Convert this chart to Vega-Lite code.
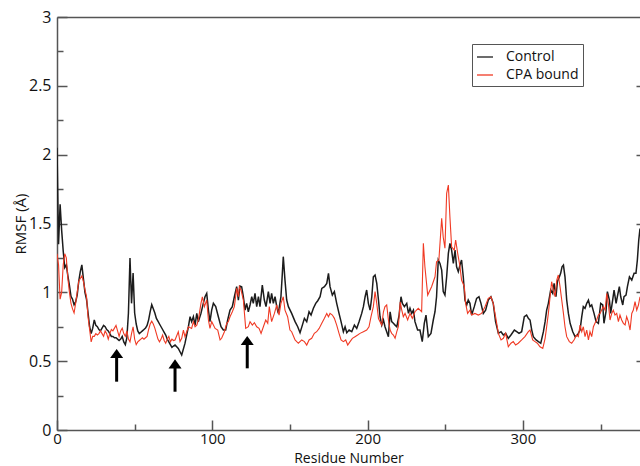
{
  "$schema": "https://vega.github.io/schema/vega-lite/v6.json",
  "width": 583,
  "height": 413,
  "autosize": {"type": "none"},
  "padding": {"left": 57, "top": 17, "right": 0, "bottom": 36},
  "background": "white",
  "config": {
    "view": {"stroke": null},
    "font": "Open Sans",
    "axis": {
      "grid": false,
      "domainColor": "#555555",
      "domainWidth": 1.5,
      "tickColor": "#555555",
      "tickWidth": 1.5,
      "labelFont": "Open Sans",
      "labelFontSize": 16,
      "labelColor": "#111111",
      "labelFlush": false,
      "titleFont": "Open Sans",
      "titleFontSize": 15,
      "titleFontWeight": "normal",
      "titleColor": "#111111"
    }
  },
  "datasets": {
    "control": [
      {"residue":0,"rmsf":2.05},{"residue":1,"rmsf":1.35},{"residue":2,"rmsf":1.64},{"residue":3,"rmsf":1.45},{"residue":4,"rmsf":1.3},{"residue":5,"rmsf":1.18},{"residue":6,"rmsf":1.2},{"residue":7,"rmsf":1.12},{"residue":8,"rmsf":1.05},{"residue":9,"rmsf":0.97},{"residue":10,"rmsf":0.95},{"residue":11,"rmsf":0.91},{"residue":12,"rmsf":0.93},{"residue":13,"rmsf":0.98},{"residue":14,"rmsf":1.08},{"residue":15,"rmsf":1.15},{"residue":16,"rmsf":1.2},{"residue":17,"rmsf":1.1},{"residue":18,"rmsf":1.0},{"residue":19,"rmsf":0.95},{"residue":20,"rmsf":0.85},{"residue":21,"rmsf":0.75},{"residue":22,"rmsf":0.7},{"residue":23,"rmsf":0.74},{"residue":24,"rmsf":0.8},{"residue":25,"rmsf":0.76},{"residue":26,"rmsf":0.75},{"residue":27,"rmsf":0.73},{"residue":28,"rmsf":0.72},{"residue":29,"rmsf":0.74},{"residue":30,"rmsf":0.76},{"residue":31,"rmsf":0.75},{"residue":32,"rmsf":0.73},{"residue":33,"rmsf":0.72},{"residue":34,"rmsf":0.7},{"residue":35,"rmsf":0.68},{"residue":36,"rmsf":0.68},{"residue":37,"rmsf":0.67},{"residue":38,"rmsf":0.67},{"residue":39,"rmsf":0.66},{"residue":40,"rmsf":0.65},{"residue":41,"rmsf":0.66},{"residue":42,"rmsf":0.68},{"residue":43,"rmsf":0.64},{"residue":44,"rmsf":0.62},{"residue":45,"rmsf":0.67},{"residue":46,"rmsf":0.85},{"residue":47,"rmsf":1.25},{"residue":48,"rmsf":0.92},{"residue":49,"rmsf":1.14},{"residue":50,"rmsf":0.85},{"residue":51,"rmsf":0.77},{"residue":52,"rmsf":0.72},{"residue":53,"rmsf":0.7},{"residue":54,"rmsf":0.71},{"residue":55,"rmsf":0.72},{"residue":56,"rmsf":0.73},{"residue":57,"rmsf":0.74},{"residue":58,"rmsf":0.76},{"residue":59,"rmsf":0.8},{"residue":60,"rmsf":0.86},{"residue":61,"rmsf":0.91},{"residue":62,"rmsf":0.88},{"residue":63,"rmsf":0.85},{"residue":64,"rmsf":0.81},{"residue":65,"rmsf":0.79},{"residue":66,"rmsf":0.77},{"residue":67,"rmsf":0.75},{"residue":68,"rmsf":0.73},{"residue":69,"rmsf":0.71},{"residue":70,"rmsf":0.69},{"residue":71,"rmsf":0.66},{"residue":72,"rmsf":0.64},{"residue":73,"rmsf":0.62},{"residue":74,"rmsf":0.6},{"residue":75,"rmsf":0.61},
      {"residue":76.0,"rmsf":0.617},{"residue":78.1,"rmsf":0.593},{"residue":80.3,"rmsf":0.545},{"residue":82.4,"rmsf":0.629},{"residue":84.6,"rmsf":0.75},{"residue":85.7,"rmsf":0.823},{"residue":86.7,"rmsf":0.787},{"residue":87.8,"rmsf":0.823},{"residue":88.9,"rmsf":0.762},{"residue":90.0,"rmsf":0.847},{"residue":91.0,"rmsf":0.787},{"residue":92.7,"rmsf":0.847},{"residue":94.2,"rmsf":0.92},{"residue":95.3,"rmsf":0.968},{"residue":96.4,"rmsf":0.992},{"residue":97.5,"rmsf":0.871},{"residue":98.5,"rmsf":0.787},{"residue":99.6,"rmsf":0.871},{"residue":100.7,"rmsf":0.92},{"residue":102.2,"rmsf":0.896},{"residue":103.9,"rmsf":0.823},{"residue":105.6,"rmsf":0.75},{"residue":107.1,"rmsf":0.726},{"residue":108.6,"rmsf":0.726},{"residue":109.9,"rmsf":0.799},{"residue":111.4,"rmsf":0.871},{"residue":112.9,"rmsf":0.896},{"residue":114.2,"rmsf":0.968},{"residue":115.7,"rmsf":1.041},{"residue":116.8,"rmsf":0.944},{"residue":117.8,"rmsf":1.046},{"residue":118.9,"rmsf":1.041},{"residue":120.0,"rmsf":0.968},{"residue":121.1,"rmsf":0.871},{"residue":122.1,"rmsf":0.92},{"residue":123.2,"rmsf":0.859},{"residue":124.3,"rmsf":0.908},{"residue":125.4,"rmsf":0.968},{"residue":126.4,"rmsf":0.92},{"residue":127.5,"rmsf":0.992},{"residue":128.6,"rmsf":0.896},{"residue":129.7,"rmsf":0.968},{"residue":130.7,"rmsf":0.896},{"residue":132.2,"rmsf":1.053},{"residue":133.5,"rmsf":0.944},{"residue":134.6,"rmsf":0.896},{"residue":136.1,"rmsf":1.005},{"residue":137.2,"rmsf":0.92},{"residue":138.2,"rmsf":0.992},{"residue":139.3,"rmsf":0.92},{"residue":140.4,"rmsf":0.968},{"residue":141.5,"rmsf":0.896},{"residue":142.5,"rmsf":0.847},{"residue":144.2,"rmsf":0.968},{"residue":145.1,"rmsf":1.138},{"residue":145.7,"rmsf":1.259},{"residue":146.8,"rmsf":1.089},{"residue":147.9,"rmsf":0.944},{"residue":149.0,"rmsf":0.896},{"residue":151.1,"rmsf":0.847},
      {"residue":153.3,"rmsf":0.787},{"residue":155.0,"rmsf":0.75},{"residue":156.5,"rmsf":0.707},{"residue":158.0,"rmsf":0.762},{"residue":159.3,"rmsf":0.811},{"residue":160.8,"rmsf":0.787},{"residue":162.3,"rmsf":0.859},{"residue":163.6,"rmsf":0.835},{"residue":165.1,"rmsf":0.884},{"residue":166.6,"rmsf":0.92},{"residue":167.9,"rmsf":0.939},{"residue":169.4,"rmsf":0.968},{"residue":170.5,"rmsf":1.029},{"residue":172.2,"rmsf":1.041},{"residue":173.7,"rmsf":1.065},{"residue":174.8,"rmsf":1.138},{"residue":175.8,"rmsf":1.041},{"residue":177.3,"rmsf":0.98},{"residue":178.6,"rmsf":1.005},{"residue":180.1,"rmsf":0.92},{"residue":181.6,"rmsf":0.847},{"residue":182.9,"rmsf":0.787},{"residue":184.4,"rmsf":0.714},{"residue":185.5,"rmsf":0.75},{"residue":186.6,"rmsf":0.707},{"residue":188.1,"rmsf":0.726},{"residue":189.8,"rmsf":0.714},{"residue":191.5,"rmsf":0.762},{"residue":193.0,"rmsf":0.738},{"residue":194.5,"rmsf":0.787},{"residue":196.2,"rmsf":0.847},{"residue":197.3,"rmsf":0.896},{"residue":198.4,"rmsf":0.968},{"residue":199.4,"rmsf":1.017},{"residue":200.5,"rmsf":0.92},{"residue":201.6,"rmsf":0.871},{"residue":202.7,"rmsf":0.968},{"residue":203.7,"rmsf":1.113},{"residue":204.8,"rmsf":1.126},{"residue":205.9,"rmsf":1.065},{"residue":207.0,"rmsf":0.944},{"residue":208.0,"rmsf":0.823},{"residue":209.1,"rmsf":0.762},{"residue":210.2,"rmsf":0.799},{"residue":211.2,"rmsf":0.75},{"residue":212.3,"rmsf":0.714},{"residue":213.4,"rmsf":0.678},{"residue":214.5,"rmsf":0.859},{"residue":215.5,"rmsf":0.787},{"residue":216.6,"rmsf":0.775},{"residue":217.7,"rmsf":0.762},{"residue":218.8,"rmsf":0.75},{"residue":220.3,"rmsf":0.835},{"residue":221.5,"rmsf":0.968},{"residue":222.4,"rmsf":0.92},{"residue":223.7,"rmsf":0.896},{"residue":225.2,"rmsf":0.92},{"residue":226.3,"rmsf":0.847},{"residue":227.3,"rmsf":0.884},{"residue":228.4,"rmsf":0.847},{"residue":229.5,"rmsf":0.871},
      {"residue":230.5,"rmsf":0.787},{"residue":232.2,"rmsf":0.726},{"residue":233.7,"rmsf":0.726},{"residue":235.2,"rmsf":0.642},{"residue":236.5,"rmsf":0.775},{"residue":237.6,"rmsf":0.835},{"residue":239.1,"rmsf":0.678},{"residue":240.8,"rmsf":0.702},{"residue":242.3,"rmsf":0.799},{"residue":243.4,"rmsf":0.859},{"residue":244.4,"rmsf":0.968},{"residue":245.5,"rmsf":1.235},{"residue":246.6,"rmsf":1.21},{"residue":247.7,"rmsf":1.162},{"residue":248.7,"rmsf":1.005},{"residue":249.8,"rmsf":0.98},{"residue":250.9,"rmsf":1.113},{"residue":252.0,"rmsf":1.283},{"residue":253.0,"rmsf":1.356},{"residue":254.1,"rmsf":1.307},{"residue":255.2,"rmsf":1.21},{"residue":256.3,"rmsf":1.307},{"residue":257.3,"rmsf":1.186},{"residue":258.4,"rmsf":1.15},{"residue":259.5,"rmsf":1.198},{"residue":260.5,"rmsf":1.235},{"residue":261.6,"rmsf":1.113},{"residue":262.7,"rmsf":0.944},{"residue":263.8,"rmsf":0.908},{"residue":264.8,"rmsf":0.944},{"residue":265.9,"rmsf":0.92},{"residue":267.0,"rmsf":0.835},{"residue":268.7,"rmsf":0.896},{"residue":270.2,"rmsf":0.956},{"residue":271.7,"rmsf":0.968},{"residue":273.0,"rmsf":0.92},{"residue":274.5,"rmsf":0.847},{"residue":276.0,"rmsf":0.871},{"residue":277.7,"rmsf":0.944},{"residue":279.4,"rmsf":0.968},{"residue":280.9,"rmsf":0.92},{"residue":282.4,"rmsf":0.787},{"residue":284.2,"rmsf":0.702},{"residue":285.9,"rmsf":0.714},{"residue":287.4,"rmsf":0.69},{"residue":288.9,"rmsf":0.702},{"residue":290.6,"rmsf":0.666},{"residue":292.3,"rmsf":0.69},{"residue":294.5,"rmsf":0.726},{"residue":296.0,"rmsf":0.714},{"residue":297.5,"rmsf":0.702},{"residue":299.2,"rmsf":0.714},{"residue":300.9,"rmsf":0.823},{"residue":302.4,"rmsf":0.835},{"residue":303.6,"rmsf":0.81},
      {"residue":304.6,"rmsf":0.799},{"residue":305.7,"rmsf":0.726},{"residue":306.7,"rmsf":0.678},{"residue":308.5,"rmsf":0.654},{"residue":310.0,"rmsf":0.642},{"residue":311.5,"rmsf":0.63},{"residue":313.2,"rmsf":0.714},{"residue":314.3,"rmsf":0.787},{"residue":315.3,"rmsf":0.871},{"residue":316.4,"rmsf":0.92},{"residue":317.9,"rmsf":1.017},{"residue":319.2,"rmsf":0.992},{"residue":320.1,"rmsf":1.065},{"residue":321.3,"rmsf":0.968},{"residue":322.2,"rmsf":1.077},{"residue":323.5,"rmsf":1.113},{"residue":324.3,"rmsf":1.138},{"residue":325.2,"rmsf":1.186},{"residue":326.1,"rmsf":1.198},{"residue":327.1,"rmsf":1.113},{"residue":328.2,"rmsf":0.944},{"residue":329.3,"rmsf":0.847},{"residue":330.4,"rmsf":0.775},{"residue":332.1,"rmsf":0.714},{"residue":333.6,"rmsf":0.678},{"residue":335.1,"rmsf":0.69},{"residue":336.8,"rmsf":0.726},{"residue":337.9,"rmsf":0.823},{"residue":338.9,"rmsf":0.896},{"residue":340.0,"rmsf":0.884},{"residue":341.1,"rmsf":0.92},{"residue":342.2,"rmsf":0.944},{"residue":343.2,"rmsf":0.896},{"residue":344.3,"rmsf":0.908},{"residue":345.8,"rmsf":0.847},{"residue":347.1,"rmsf":0.787},{"residue":348.6,"rmsf":0.775},{"residue":350.1,"rmsf":0.92},{"residue":351.4,"rmsf":0.908},{"residue":352.2,"rmsf":0.775},{"residue":353.5,"rmsf":0.859},{"residue":354.4,"rmsf":1.005},{"residue":355.7,"rmsf":0.944},{"residue":356.5,"rmsf":0.847},{"residue":357.8,"rmsf":0.944},{"residue":358.7,"rmsf":1.017},{"residue":360.0,"rmsf":0.92},{"residue":360.8,"rmsf":0.968},{"residue":362.1,"rmsf":1.041},{"residue":363.0,"rmsf":0.968},{"residue":364.3,"rmsf":0.908},{"residue":365.1,"rmsf":0.968},{"residue":366.4,"rmsf":0.98},{"residue":367.3,"rmsf":1.041},{"residue":368.6,"rmsf":1.113},{"residue":370.1,"rmsf":1.089},{"residue":371.6,"rmsf":1.138},{"residue":372.8,"rmsf":1.138},{"residue":373.7,"rmsf":1.235},{"residue":374.6,"rmsf":1.38},{"residue":375.4,"rmsf":1.464}
    ],
    "cpa": [
      {"residue":0,"rmsf":1.28},{"residue":1,"rmsf":1.2},{"residue":2,"rmsf":0.95},{"residue":3,"rmsf":1.0},{"residue":4,"rmsf":1.2},{"residue":5,"rmsf":1.28},{"residue":6,"rmsf":1.25},{"residue":7,"rmsf":1.1},{"residue":8,"rmsf":1.0},{"residue":9,"rmsf":0.92},{"residue":10,"rmsf":0.88},{"residue":11,"rmsf":0.85},{"residue":12,"rmsf":0.92},{"residue":13,"rmsf":1.0},{"residue":14,"rmsf":1.08},{"residue":15,"rmsf":1.1},{"residue":16,"rmsf":1.12},{"residue":17,"rmsf":1.08},{"residue":18,"rmsf":1.02},{"residue":19,"rmsf":0.97},{"residue":20,"rmsf":0.82},{"residue":21,"rmsf":0.73},{"residue":22,"rmsf":0.64},{"residue":23,"rmsf":0.68},{"residue":24,"rmsf":0.68},{"residue":25,"rmsf":0.7},{"residue":26,"rmsf":0.69},{"residue":27,"rmsf":0.7},{"residue":28,"rmsf":0.72},{"residue":29,"rmsf":0.7},{"residue":30,"rmsf":0.68},{"residue":31,"rmsf":0.72},{"residue":32,"rmsf":0.7},{"residue":33,"rmsf":0.66},{"residue":34,"rmsf":0.7},{"residue":35,"rmsf":0.73},{"residue":36,"rmsf":0.72},{"residue":37,"rmsf":0.74},{"residue":38,"rmsf":0.76},{"residue":39,"rmsf":0.72},{"residue":40,"rmsf":0.68},{"residue":41,"rmsf":0.72},{"residue":42,"rmsf":0.74},{"residue":43,"rmsf":0.7},{"residue":44,"rmsf":0.68},{"residue":45,"rmsf":0.72},{"residue":46,"rmsf":0.66},{"residue":47,"rmsf":0.64},{"residue":48,"rmsf":0.7},{"residue":49,"rmsf":0.75},{"residue":50,"rmsf":0.66},{"residue":51,"rmsf":0.62},{"residue":52,"rmsf":0.64},{"residue":53,"rmsf":0.65},{"residue":54,"rmsf":0.66},{"residue":55,"rmsf":0.67},{"residue":56,"rmsf":0.66},{"residue":57,"rmsf":0.67},{"residue":58,"rmsf":0.68},{"residue":59,"rmsf":0.73},{"residue":60,"rmsf":0.77},{"residue":61,"rmsf":0.79},{"residue":62,"rmsf":0.77},{"residue":63,"rmsf":0.74},{"residue":64,"rmsf":0.7},{"residue":65,"rmsf":0.66},{"residue":66,"rmsf":0.64},{"residue":67,"rmsf":0.66},{"residue":68,"rmsf":0.69},{"residue":69,"rmsf":0.65},{"residue":70,"rmsf":0.63},{"residue":71,"rmsf":0.66},{"residue":72,"rmsf":0.68},{"residue":73,"rmsf":0.64},{"residue":74,"rmsf":0.66},{"residue":75,"rmsf":0.65},
      {"residue":76.0,"rmsf":0.654},{"residue":78.1,"rmsf":0.714},{"residue":79.2,"rmsf":0.642},{"residue":80.3,"rmsf":0.666},{"residue":81.4,"rmsf":0.726},{"residue":82.4,"rmsf":0.678},{"residue":84.6,"rmsf":0.75},{"residue":86.7,"rmsf":0.738},{"residue":87.8,"rmsf":0.787},{"residue":88.9,"rmsf":0.75},{"residue":90.0,"rmsf":0.762},{"residue":91.0,"rmsf":0.799},{"residue":92.7,"rmsf":0.92},{"residue":93.6,"rmsf":0.968},{"residue":94.9,"rmsf":0.896},{"residue":96.4,"rmsf":0.944},{"residue":97.5,"rmsf":0.799},{"residue":98.5,"rmsf":0.738},{"residue":99.6,"rmsf":0.787},{"residue":100.7,"rmsf":0.762},{"residue":101.8,"rmsf":0.738},{"residue":103.5,"rmsf":0.726},{"residue":105.0,"rmsf":0.654},{"residue":106.0,"rmsf":0.666},{"residue":107.8,"rmsf":0.714},{"residue":109.3,"rmsf":0.775},{"residue":110.3,"rmsf":0.787},{"residue":111.4,"rmsf":0.823},{"residue":112.9,"rmsf":0.859},{"residue":114.2,"rmsf":0.896},{"residue":115.7,"rmsf":1.029},{"residue":116.8,"rmsf":0.968},{"residue":117.4,"rmsf":1.041},{"residue":118.5,"rmsf":1.017},{"residue":120.0,"rmsf":0.944},{"residue":121.5,"rmsf":0.738},{"residue":123.2,"rmsf":0.75},{"residue":124.3,"rmsf":0.787},{"residue":125.8,"rmsf":0.762},{"residue":127.1,"rmsf":0.779},{"residue":128.6,"rmsf":0.75},{"residue":130.1,"rmsf":0.738},{"residue":131.4,"rmsf":0.702},{"residue":132.9,"rmsf":0.75},{"residue":134.4,"rmsf":0.799},{"residue":135.7,"rmsf":0.775},{"residue":136.7,"rmsf":0.896},{"residue":138.2,"rmsf":0.787},{"residue":140.0,"rmsf":0.847},{"residue":141.5,"rmsf":0.908},{"residue":143.0,"rmsf":0.835},{"residue":144.2,"rmsf":0.92},{"residue":145.7,"rmsf":0.968},{"residue":146.8,"rmsf":0.871},{"residue":148.5,"rmsf":0.823},{"residue":150.0,"rmsf":0.726},{"residue":151.1,"rmsf":0.714},
      {"residue":153.3,"rmsf":0.654},{"residue":155.4,"rmsf":0.63},{"residue":157.6,"rmsf":0.654},{"residue":159.3,"rmsf":0.642},{"residue":160.8,"rmsf":0.617},{"residue":162.3,"rmsf":0.654},{"residue":164.0,"rmsf":0.666},{"residue":165.7,"rmsf":0.702},{"residue":167.2,"rmsf":0.714},{"residue":168.8,"rmsf":0.738},{"residue":170.5,"rmsf":0.775},{"residue":172.2,"rmsf":0.811},{"residue":173.7,"rmsf":0.847},{"residue":174.8,"rmsf":0.823},{"residue":175.8,"rmsf":0.847},{"residue":177.3,"rmsf":0.835},{"residue":178.6,"rmsf":0.811},{"residue":180.1,"rmsf":0.762},{"residue":181.6,"rmsf":0.702},{"residue":182.9,"rmsf":0.654},{"residue":184.4,"rmsf":0.642},{"residue":185.9,"rmsf":0.654},{"residue":187.2,"rmsf":0.617},{"residue":188.7,"rmsf":0.642},{"residue":190.2,"rmsf":0.666},{"residue":191.9,"rmsf":0.678},{"residue":193.6,"rmsf":0.69},{"residue":195.1,"rmsf":0.702},{"residue":197.3,"rmsf":0.714},{"residue":199.4,"rmsf":0.726},{"residue":200.9,"rmsf":0.75},{"residue":202.2,"rmsf":0.823},{"residue":203.7,"rmsf":0.896},{"residue":204.8,"rmsf":1.005},{"residue":205.9,"rmsf":0.92},{"residue":207.0,"rmsf":0.81},{"residue":208.0,"rmsf":0.787},{"residue":209.1,"rmsf":0.762},{"residue":210.2,"rmsf":0.859},{"residue":211.2,"rmsf":0.896},{"residue":212.3,"rmsf":0.908},{"residue":213.4,"rmsf":0.799},{"residue":214.5,"rmsf":0.726},{"residue":215.5,"rmsf":0.702},{"residue":216.6,"rmsf":0.69},{"residue":217.7,"rmsf":0.666},{"residue":218.8,"rmsf":0.714},{"residue":219.8,"rmsf":0.75},{"residue":221.0,"rmsf":0.93},{"residue":222.0,"rmsf":0.871},{"residue":223.0,"rmsf":0.823},{"residue":224.1,"rmsf":0.847},{"residue":225.8,"rmsf":0.799},{"residue":227.3,"rmsf":0.847},{"residue":228.8,"rmsf":0.811},{"residue":230.5,"rmsf":0.859},
      {"residue":232.6,"rmsf":0.884},{"residue":234.8,"rmsf":0.859},{"residue":235.9,"rmsf":1.356},{"residue":236.9,"rmsf":1.186},{"residue":238.7,"rmsf":0.98},{"residue":241.2,"rmsf":1.041},{"residue":243.4,"rmsf":1.113},{"residue":244.4,"rmsf":1.222},{"residue":245.9,"rmsf":1.235},{"residue":247.7,"rmsf":1.537},{"residue":248.7,"rmsf":1.4},{"residue":249.8,"rmsf":1.32},{"residue":250.9,"rmsf":1.719},{"residue":252.0,"rmsf":1.779},{"residue":253.0,"rmsf":1.549},{"residue":254.1,"rmsf":1.331},{"residue":255.8,"rmsf":1.307},{"residue":256.7,"rmsf":1.38},{"residue":258.0,"rmsf":1.283},{"residue":259.5,"rmsf":1.186},{"residue":260.5,"rmsf":1.089},{"residue":262.3,"rmsf":1.041},{"residue":263.1,"rmsf":0.92},{"residue":264.4,"rmsf":0.847},{"residue":265.9,"rmsf":0.871},{"residue":267.0,"rmsf":0.835},{"residue":269.1,"rmsf":0.847},{"residue":271.3,"rmsf":0.835},{"residue":273.4,"rmsf":0.847},{"residue":275.6,"rmsf":0.896},{"residue":277.7,"rmsf":0.956},{"residue":279.4,"rmsf":0.968},{"residue":280.9,"rmsf":0.92},{"residue":282.4,"rmsf":0.823},{"residue":284.2,"rmsf":0.702},{"residue":285.9,"rmsf":0.654},{"residue":287.4,"rmsf":0.666},{"residue":288.9,"rmsf":0.702},{"residue":290.6,"rmsf":0.605},{"residue":292.3,"rmsf":0.63},{"residue":293.8,"rmsf":0.642},{"residue":295.3,"rmsf":0.617},{"residue":297.0,"rmsf":0.63},{"residue":299.2,"rmsf":0.654},{"residue":301.3,"rmsf":0.678},{"residue":303.5,"rmsf":0.714},
      {"residue":304.6,"rmsf":0.726},{"residue":306.3,"rmsf":0.654},{"residue":307.8,"rmsf":0.642},{"residue":309.3,"rmsf":0.63},{"residue":311.0,"rmsf":0.605},{"residue":312.8,"rmsf":0.593},{"residue":314.3,"rmsf":0.666},{"residue":315.3,"rmsf":0.75},{"residue":316.4,"rmsf":0.847},{"residue":317.5,"rmsf":0.968},{"residue":318.5,"rmsf":1.077},{"residue":319.6,"rmsf":1.017},{"residue":320.7,"rmsf":0.968},{"residue":321.8,"rmsf":1.089},{"residue":322.8,"rmsf":1.126},{"residue":323.9,"rmsf":1.041},{"residue":325.0,"rmsf":0.944},{"residue":326.1,"rmsf":0.847},{"residue":327.1,"rmsf":0.75},{"residue":328.2,"rmsf":0.678},{"residue":329.9,"rmsf":0.642},{"residue":331.4,"rmsf":0.63},{"residue":332.9,"rmsf":0.654},{"residue":334.6,"rmsf":0.69},{"residue":335.7,"rmsf":0.678},{"residue":336.8,"rmsf":0.762},{"residue":337.9,"rmsf":0.714},{"residue":338.9,"rmsf":0.75},{"residue":340.0,"rmsf":0.678},{"residue":341.1,"rmsf":0.726},{"residue":342.2,"rmsf":0.654},{"residue":343.2,"rmsf":0.714},{"residue":344.3,"rmsf":0.678},{"residue":345.4,"rmsf":0.75},{"residue":346.4,"rmsf":0.775},{"residue":347.5,"rmsf":0.799},{"residue":348.6,"rmsf":0.835},{"residue":349.7,"rmsf":0.847},{"residue":350.7,"rmsf":0.871},{"residue":351.8,"rmsf":0.896},{"residue":352.9,"rmsf":0.871},{"residue":354.0,"rmsf":0.992},{"residue":355.0,"rmsf":0.92},{"residue":356.1,"rmsf":0.799},{"residue":357.2,"rmsf":0.847},{"residue":358.2,"rmsf":0.871},{"residue":359.3,"rmsf":0.835},{"residue":360.4,"rmsf":0.847},{"residue":361.5,"rmsf":0.787},{"residue":362.5,"rmsf":0.835},{"residue":363.6,"rmsf":0.799},{"residue":364.7,"rmsf":0.775},{"residue":365.8,"rmsf":0.763},{"residue":366.8,"rmsf":0.823},{"residue":367.9,"rmsf":0.787},{"residue":369.0,"rmsf":0.726},{"residue":370.1,"rmsf":0.847},{"residue":371.1,"rmsf":0.871},{"residue":372.2,"rmsf":0.932},{"residue":373.3,"rmsf":0.871},{"residue":374.4,"rmsf":0.908},{"residue":375.4,"rmsf":0.968}
    ],
    "arrows": [
      {"residue": 38.4, "base": 0.351, "tip": 0.588},
      {"residue": 76.0, "base": 0.278, "tip": 0.513},
      {"residue": 122.5, "base": 0.448, "tip": 0.683}
    ]
  },
  "layer": [
    {
      "data": {"name": "control"},
      "mark": {"type": "line", "clip": true, "strokeWidth": 1.5},
      "encoding": {
        "x": {"field": "residue", "type": "quantitative", "scale": {"domain": [0, 375.4], "nice": false, "zero": false},
          "axis": {"orient": "bottom", "values": [0, 100, 200, 300], "format": "d", "tickSize": -10, "labelPadding": 11, "labelFontSize": 15, "title": "Residue Number", "titleFontSize": 14, "titlePadding": 5}},
        "y": {"field": "rmsf", "type": "quantitative", "scale": {"domain": [0, 3], "nice": false},
          "axis": {"orient": "left", "values": [0, 0.5, 1, 1.5, 2, 2.5, 3], "format": "~g", "tickSize": -10, "labelPadding": 16, "title": "RMSF (Å)", "titlePadding": 0}},
        "color": {"datum": "Control", "type": "nominal",
          "scale": {"domain": ["Control", "CPA bound"], "range": ["#1c1c1c", "#f03a24"]},
          "legend": {"title": null, "orient": "none", "legendX": 415, "legendY": 27, "symbolType": "stroke", "symbolSize": 256, "symbolStrokeWidth": 1.3, "labelFont": "Open Sans", "labelFontSize": 14, "labelColor": "#111111", "labelOffset": 12, "strokeColor": "#555555", "fillColor": "white", "padding": 4, "rowPadding": 2}}
      }
    },
    {
      "data": {"name": "cpa"},
      "mark": {"type": "line", "clip": true, "strokeWidth": 1.1},
      "encoding": {
        "x": {"field": "residue", "type": "quantitative", "scale": {"domain": [0, 375.4], "nice": false, "zero": false},
          "axis": {"orient": "bottom", "values": [50, 150, 250, 350], "tickSize": -6, "labels": false, "domain": false, "title": null}},
        "y": {"field": "rmsf", "type": "quantitative", "scale": {"domain": [0, 3], "nice": false},
          "axis": {"orient": "left", "values": [0.25, 0.75, 1.25, 1.75, 2.25, 2.75], "tickSize": -6, "labels": false, "domain": false, "title": null}},
        "color": {"datum": "CPA bound", "type": "nominal", "scale": {"domain": ["Control", "CPA bound"], "range": ["#1c1c1c", "#f03a24"]}}
      }
    },
    {
      "data": {"name": "arrows"},
      "mark": {"type": "rule", "strokeWidth": 3, "color": "black", "y2Offset": 7},
      "encoding": {
        "x": {"field": "residue", "type": "quantitative", "scale": {"domain": [0, 375.4], "nice": false, "zero": false},
          "axis": {"orient": "top", "ticks": false, "labels": false, "domain": true, "title": null}},
        "y": {"field": "base", "type": "quantitative", "scale": {"domain": [0, 3], "nice": false},
          "axis": {"orient": "right", "values": [0.5, 1, 1.5, 2, 2.5], "tickSize": -4, "labels": false, "domain": false, "title": null}},
        "y2": {"field": "tip"}
      }
    },
    {
      "data": {"name": "arrows"},
      "mark": {"type": "point", "shape": "M0,-0.7L1,0.7L-1,0.7Z", "filled": true, "color": "black", "opacity": 1, "size": 169, "yOffset": 4.5, "strokeWidth": 0},
      "encoding": {
        "x": {"field": "residue", "type": "quantitative", "scale": {"domain": [0, 375.4], "nice": false, "zero": false}, "axis": null},
        "y": {"field": "tip", "type": "quantitative", "scale": {"domain": [0, 3], "nice": false}, "axis": null}
      }
    }
  ],
  "resolve": {"axis": {"x": "independent", "y": "independent"}}
}
